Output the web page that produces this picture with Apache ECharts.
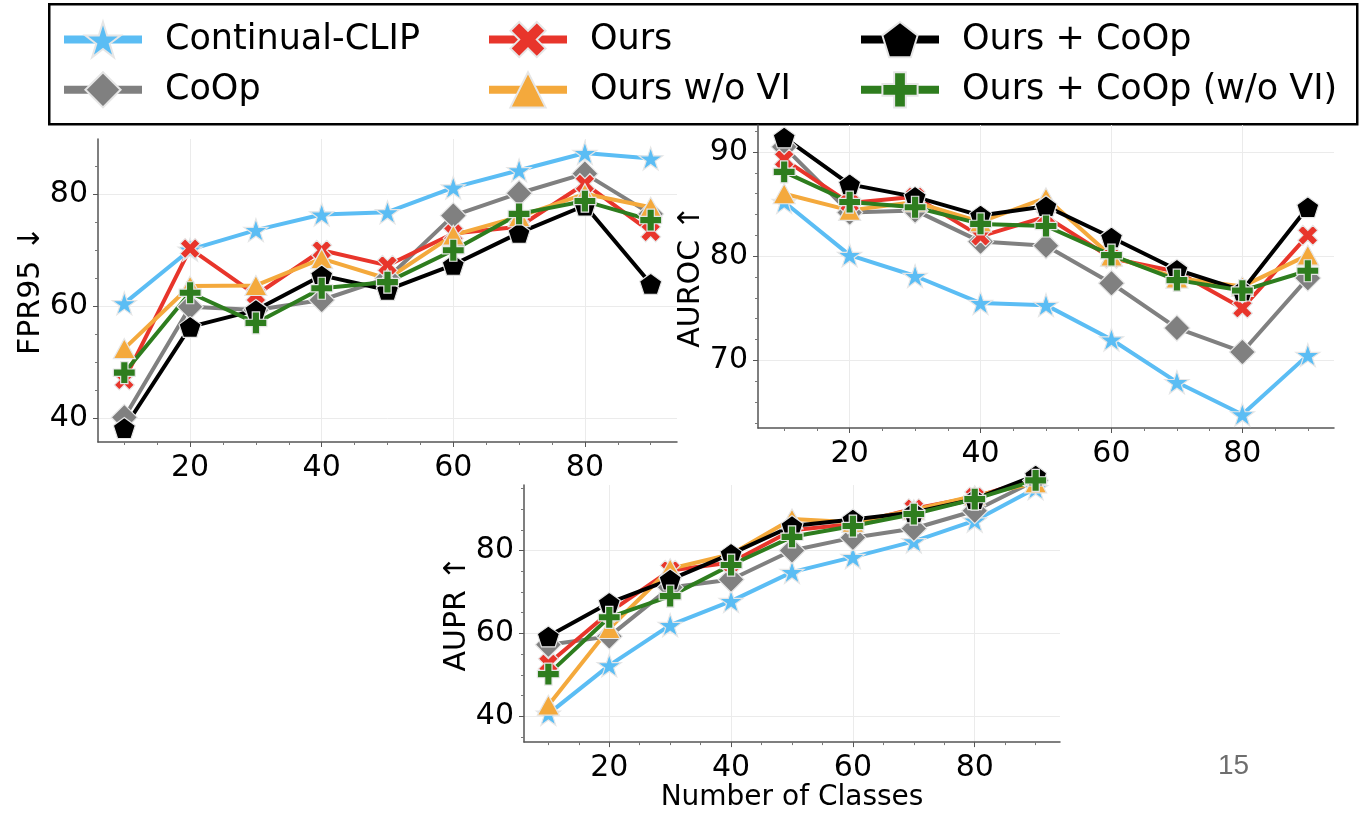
<!DOCTYPE html>
<html>
<head>
<meta charset="utf-8">
<script src="https://cdn.jsdelivr.net/npm/echarts@6/dist/echarts.min.js"></script>
<style>
html,body{margin:0;padding:0;background:#fff}
#chart{width:1366px;height:813px}
</style>
</head>
<body>
<div id="chart"></div>
<script>
// x values shared by the three panels
const classes = [10, 20, 30, 40, 50, 60, 70, 80, 90];
const names = ['Continual-CLIP', 'CoOp', 'Ours', 'Ours w/o VI', 'Ours + CoOp', 'Ours + CoOp (w/o VI)'];
const colors = ['#5bbdf4', '#808080', '#e8352b', '#f4a93c', '#000000', '#2e7d1e'];

// FPR95 (lower is better)
const fprClip      = [60.5, 70.1, 73.6, 76.4, 76.8, 81.2, 84.3, 87.4, 86.4];
const fprCoop      = [40.1, 59.9, 59.3, 61.1, 65.0, 76.2, 80.2, 83.7, 76.5];
const fprOurs      = [46.8, 70.3, 62.0, 70.0, 67.3, 73.0, 74.2, 81.9, 73.3];
const fprOursNoVI  = [52.4, 63.6, 63.7, 68.5, 64.9, 72.7, 76.0, 80.1, 77.7];
const fprOursCoop  = [38.2, 56.3, 59.3, 65.5, 62.9, 67.4, 73.1, 78.0, 64.0];
const fprOursCoopNoVI = [48.1, 62.4, 57.0, 63.2, 64.3, 70.0, 76.5, 78.8, 75.4];

// AUROC
const aurocClip     = [85.2, 80.1, 78.1, 75.5, 75.3, 72.0, 67.9, 64.8, 70.5];
const aurocCoop     = [90.5, 84.2, 84.4, 81.4, 81.0, 77.4, 73.1, 70.8, 77.9];
const aurocOurs     = [89.3, 85.1, 85.7, 81.9, 83.8, 79.8, 78.5, 75.0, 82.0];
const aurocOursNoVI = [86.0, 84.4, 85.2, 83.3, 85.6, 80.0, 77.9, 77.1, 80.1];
const aurocOursCoop = [91.4, 86.9, 85.7, 83.9, 84.8, 81.8, 78.7, 76.7, 84.7];
const aurocOursCoopNoVI = [88.1, 85.2, 84.7, 83.1, 82.9, 80.1, 77.7, 76.7, 78.6];

// AUPR
const auprClip     = [40.6, 52.3, 62.0, 67.8, 74.8, 78.4, 82.2, 87.2, 95.0];
const auprCoop     = [57.3, 59.3, 71.1, 73.0, 80.0, 83.1, 85.3, 89.6, 96.9];
const auprOurs     = [52.7, 65.1, 75.2, 77.1, 84.9, 86.4, 90.1, 92.9, 97.3];
const auprOursNoVI = [42.7, 61.2, 75.6, 79.1, 87.6, 86.8, 89.8, 93.2, 96.3];
const auprOursCoop = [59.3, 67.4, 73.0, 79.2, 85.9, 87.5, 89.2, 92.4, 98.1];
const auprOursCoopNoVI = [50.2, 63.9, 69.0, 76.5, 83.3, 85.9, 88.8, 92.4, 96.9];

const xTicks = [20, 40, 60, 80];

const symbols = [
  'path://M0,-10 L2.245,-3.09 L9.511,-3.09 L3.633,1.18 L5.878,8.09 L0,3.82 L-5.878,8.09 L-3.633,1.18 L-9.511,-3.09 L-2.245,-3.09 Z',
  'diamond',
  'path://M1,-2 L2,-1 L1,0 L2,1 L1,2 L0,1 L-1,2 L-2,1 L-1,0 L-2,-1 L-1,-2 L0,-1 Z',
  'triangle',
  'path://M0,-10 L9.511,-3.09 L5.878,8.09 L-5.878,8.09 L-9.511,-3.09 Z',
  'path://M-1,-3 L1,-3 L1,-1 L3,-1 L3,1 L1,1 L1,3 L-1,3 L-1,1 L-3,1 L-3,-1 L-1,-1 Z'
];
const symbolSizes = [24, 26, 20, [22, 20], 22, 22];

const font = 'DejaVu Sans';

function panelSeries(gi, lists) {
  return lists.map(function (vals, i) {
    return {
      name: names[i],
      type: 'line',
      xAxisIndex: gi,
      yAxisIndex: gi,
      data: classes.map(function (c, k) { return [c, vals[k]]; }),
      symbol: symbols[i],
      symbolSize: symbolSizes[i],
      symbolKeepAspect: true,
      clip: false,
      color: colors[i],
      lineStyle: { width: 4, color: colors[i] },
      itemStyle: { color: colors[i], borderColor: '#e6e6e6', borderWidth: 1.2 }
    };
  });
}

function xAxisFor(gi, name) {
  return {
    type: 'value', gridIndex: gi, min: 6, max: 94,
    name: name || '', nameLocation: 'middle', nameGap: 40,
    nameTextStyle: { fontSize: 28, color: '#000', fontFamily: font },
    axisLine: { show: true, onZero: false, lineStyle: { color: '#555', width: 1.5 } },
    axisTick: { show: true, length: 5, customValues: xTicks, lineStyle: { color: '#555' } },
    minorTick: { show: true, splitNumber: 4, length: 3, lineStyle: { color: '#777' } },
    axisLabel: { customValues: xTicks, fontSize: 30, color: '#000', margin: 11, fontFamily: font },
    splitLine: { show: true, lineStyle: { color: '#ebebeb', width: 1 } }
  };
}

function yAxisFor(gi, name, min, max, ticks, minorSplit, gap) {
  return {
    type: 'value', gridIndex: gi, min: min, max: max, splitNumber: 3,
    name: name, nameLocation: 'middle', nameRotate: 90, nameGap: gap,
    nameTextStyle: { fontSize: 30, color: '#000', fontFamily: font },
    axisLine: { show: true, lineStyle: { color: '#555', width: 1.5 } },
    axisTick: { show: true, length: 5, customValues: ticks, lineStyle: { color: '#555' } },
    minorTick: { show: true, splitNumber: minorSplit, length: 3, lineStyle: { color: '#777' } },
    axisLabel: { customValues: ticks, fontSize: 30, color: '#000', margin: 10, fontFamily: font },
    splitLine: { show: true, lineStyle: { color: '#ebebeb', width: 1 } }
  };
}

const legendCommon = {
  orient: 'vertical', top: 21, padding: 0,
  itemWidth: 78, itemHeight: 44, itemGap: 13,
  lineStyle: { width: 8 },
  textStyle: { fontSize: 35, color: '#000', fontFamily: font, padding: [0, 0, 0, 18] }
};

const myChart = echarts.init(document.getElementById('chart'));

myChart.setOption({
  animation: false,
  backgroundColor: '#fff',
  grid: [
    { left: 98, top: 139, width: 579, height: 303 },
    { left: 758, top: 125, width: 576, height: 303 },
    { left: 524, top: 485, width: 536, height: 266 }
  ],
  xAxis: [xAxisFor(0), xAxisFor(1), xAxisFor(2, 'Number of Classes')],
  yAxis: [
    yAxisFor(0, 'FPR95 ↓', 35.7, 89.9, [40, 60, 80], 4, 50),
    yAxisFor(1, 'AUROC ↑', 63.5, 92.6, [70, 80, 90], 5, 46),
    yAxisFor(2, 'AUPR ↑', 33.8, 95.8, [40, 60, 80], 4, 48)
  ],
  legend: [
    Object.assign({ left: 60, data: [names[0], names[1]] }, legendCommon),
    Object.assign({ left: 485, data: [names[2], names[3]] }, legendCommon),
    Object.assign({ left: 857, data: [names[4], names[5]] }, legendCommon)
  ],
  graphic: [
    { type: 'rect', left: 48, top: 3, z: -1,
      shape: { width: 1308, height: 120 },
      style: { fill: '#fff', stroke: '#000', lineWidth: 2.5 } },
    { type: 'text', left: 1218, top: 752,
      style: { text: '15', fontSize: 28, fill: '#6e6e6e', fontFamily: 'Liberation Sans' } }
  ],
  series: [].concat(
    panelSeries(0, [fprClip, fprCoop, fprOurs, fprOursNoVI, fprOursCoop, fprOursCoopNoVI]),
    panelSeries(1, [aurocClip, aurocCoop, aurocOurs, aurocOursNoVI, aurocOursCoop, aurocOursCoopNoVI]),
    panelSeries(2, [auprClip, auprCoop, auprOurs, auprOursNoVI, auprOursCoop, auprOursCoopNoVI])
  )
});
</script>
</body>
</html>
